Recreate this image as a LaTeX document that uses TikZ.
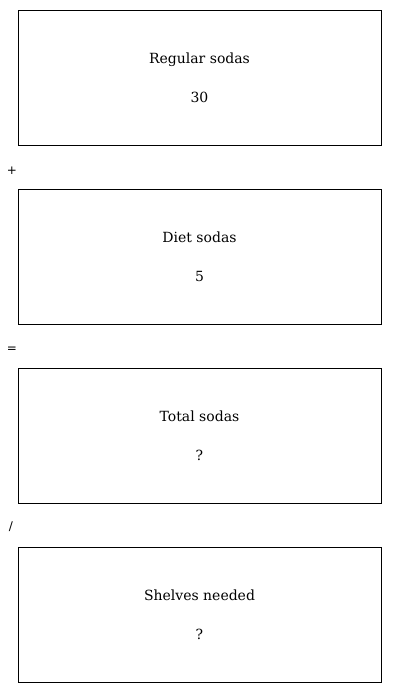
\documentclass[tikz,border=0pt]{standalone}
\usepackage{fontspec}
\setmainfont{DejaVu Serif}
\newfontfamily\opfont{DejaVu Sans}
\tikzset{
  qbox/.style={draw,line width=0.8pt,minimum width=363pt,minimum height=135pt,inner sep=0pt,align=center,font=\fontsize{14}{39}\selectfont},
  op/.style={font=\opfont\fontsize{12}{14}\selectfont}
}

\begin{document}
\begin{tikzpicture}[x=1pt,y=-1pt]
    \useasboundingbox (0,0) rectangle (400,693);

    \node [qbox] (regular) at (199.5, 77.5) {Regular sodas\\30};
    \node [op] (plus) at (12, 171) {+};

    \node [qbox] (diet) at (199.5, 256.5) {Diet sodas\\5};
    \node [op] (equals) at (12, 349.5) {=};

    \node [qbox] (total) at (199.5, 435.5) {Total sodas\\?};
    \node [op] (divide) at (11, 527) {/};

    \node [qbox] (shelves) at (199.5, 614.5) {Shelves needed\\?};
  \end{tikzpicture}
\end{document}
